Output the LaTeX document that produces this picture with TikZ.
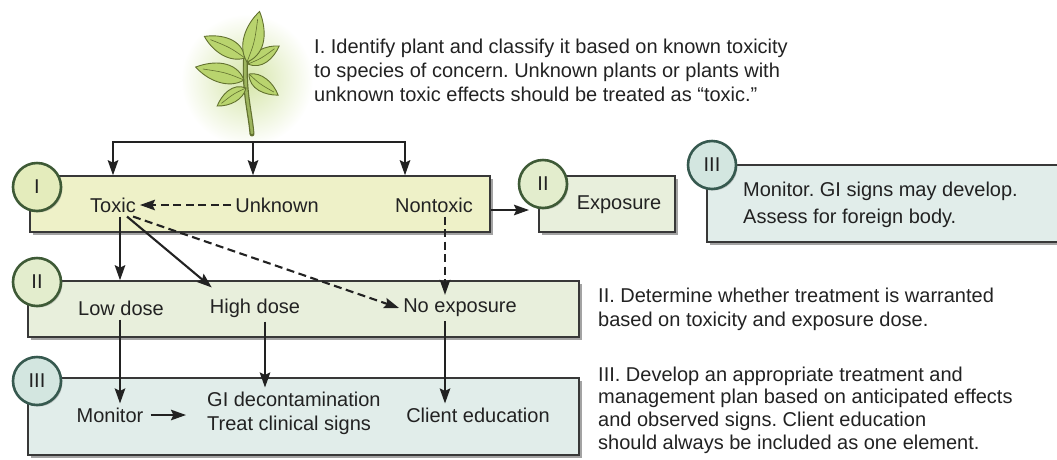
\documentclass[tikz,border=0pt]{standalone}
\usepackage{fontspec}
\setmainfont{Liberation Sans}
\usetikzlibrary{arrows.meta,shadows}
\frenchspacing

\definecolor{ink}{HTML}{222222}
\definecolor{paleyellow}{HTML}{EEF1C8}
\definecolor{palegreen}{HTML}{E8EFDC}
\definecolor{paleteal}{HTML}{E1EDEA}
\definecolor{ringgreen}{HTML}{3E5A36}
\definecolor{ringteal}{HTML}{36594F}
\definecolor{badgeyellow}{HTML}{E4ECBC}
\definecolor{badgegreen}{HTML}{E3EDCD}
\definecolor{badgeteal}{HTML}{D3E6E0}
\definecolor{leafgreen}{HTML}{B9D46E}
\definecolor{leafline}{HTML}{62712F}

% one leaf: base x, base y, angle, length
\newcommand{\leaf}[4]{%
  \begin{scope}[shift={(#1,#2)}, rotate=#3]
    \draw[leafline, fill=leafgreen, line width=0.9pt] (0,0) .. controls (#4*0.25,#4*0.34) and (#4*0.7,#4*0.22) .. (#4,0) .. controls (#4*0.7,-#4*0.2) and (#4*0.25,-#4*0.26) .. cycle;
    \draw[leafline, line width=0.6pt] (0,0) .. controls (#4*0.4,#4*0.05) .. (#4*0.85,0);
  \end{scope}}

\begin{document}
\begin{tikzpicture}[x=1pt, y=-1pt, font=\fontsize{20}{24}\selectfont, text=ink,
	panel/.style={draw=ink!90, line width=1.5pt, inner sep=0pt,
		drop shadow={shadow xshift=2.5pt, shadow yshift=-2.5pt, fill=black!60, opacity=.6}},
	badge/.style={circle, draw=#1, line width=2.6pt, minimum size=48pt, inner sep=0pt,
		drop shadow={shadow xshift=1.5pt, shadow yshift=-1.5pt, fill=black!50, opacity=.4}},
	lbl/.style={inner sep=4pt},
	note/.style={inner sep=0pt, anchor=west, align=left},
	arr/.style={draw=ink, line width=2.1pt, -{Stealth[length=15pt, width=10.5pt, inset=2.5pt]}},
	dashline/.style={dash pattern=on 8pt off 4.5pt}]
	\useasboundingbox (0,0) rectangle (1057,459);
	\clip (0,0) rectangle (1057,459);

	% plant
	\shade[inner color=leafgreen!60, outer color=white] (247,80) circle (66pt);
	\draw[leafline, line width=5pt, line cap=round] (252,134) .. controls (250,110) and (243,90) .. (246,52);
	\draw[leafgreen!85!black, line width=2.6pt, line cap=round] (252,133) .. controls (250,110) and (243,90) .. (246,52);
	\leaf{246}{88}{-148}{34}
	\leaf{249}{74}{-36}{36}
	\leaf{244}{80}{165}{50}
	\leaf{248}{64}{30}{36}
	\leaf{245}{58}{152}{46}
	\leaf{247}{62}{76}{52}
	\node[note] (stepI) at (314,70) {I. Identify plant and classify it based on known toxicity\\to species of concern. Unknown plants or plants with\\unknown toxic effects should be treated as “toxic.”};

	% panels
	\node[panel, fill=paleyellow, minimum width=460pt, minimum height=56pt] (rowI) at (260,204) {};
	\node[panel, fill=palegreen, minimum width=136pt, minimum height=56pt] (expbox) at (607,204) {};
	\node[panel, fill=paleteal, minimum width=380pt, minimum height=77pt] (gibox) at (897,203.5) {};
	\node[panel, fill=palegreen, minimum width=551pt, minimum height=56pt] (rowII) at (303.5,309) {};
	\node[panel, fill=paleteal, minimum width=551pt, minimum height=77pt] (rowIII) at (303.5,416.5) {};

	\node[badge=ringgreen, fill=badgeyellow] (bI) at (37,187) {I};
	\node[badge=ringgreen, fill=badgegreen] (bIIa) at (543,184) {II};
	\node[badge=ringteal, fill=badgeteal] (bIIIa) at (712,165) {III};
	\node[badge=ringgreen, fill=badgegreen] (bII) at (37,282) {II};
	\node[badge=ringteal, fill=badgeteal] (bIII) at (37,381) {III};

	% labels
	\node[lbl] (toxic) at (113,205) {Toxic};
	\node[lbl] (unknown) at (277,205) {Unknown};
	\node[lbl] (nontoxic) at (434,205) {Nontoxic};
	\node[lbl] (exposure) at (619,205) {Exposure};
	\node[note] (gisigns) at (743,205) {Monitor. GI signs may develop.\\[3pt]Assess for foreign body.};
	\node[lbl] (lowdose) at (121,308) {Low dose};
	\node[lbl] (highdose) at (255,308) {High dose};
	\node[lbl] (noexp) at (460,308) {No exposure};
	\node[lbl] (monitor) at (110,415) {Monitor};
	\node[lbl, anchor=west, align=left] (decon) at (203,413) {GI decontamination\\Treat clinical signs};
	\node[lbl] (client) at (478,415) {Client education};

	\node[note] (stepII) at (598,309) {II. Determine whether treatment is warranted\\based on toxicity and exposure dose.};
	\node[note, font=\fontsize{20}{22.7}\selectfont] (stepIII) at (598,410) {III. Develop an appropriate treatment and\\management plan based on anticipated effects\\and observed signs. Client education\\should always be included as one element.};

	% connectors
	\coordinate (fork) at (253,142);
	\coordinate (forkr) at (405,142);
	\coordinate (expin) at (529,210);
	\coordinate (colA) at (120,0);
	\coordinate (colB) at (265,0);
	\coordinate (colC) at (445,0);
	\draw[arr] (fork) -| (toxic.north |- rowI.north);
	\draw[arr] (fork) -- (fork |- rowI.north);
	\draw[arr] (fork) -| (forkr |- rowI.north);
	\draw[arr, dashline] (unknown) -- (toxic);
	\draw[arr] (rowI.east |- expin) -- (expin);
	\draw[arr] (toxic.south -| colA) -- (rowII.north -| colA);
	\draw[arr] ([xshift=14pt]toxic.south) -- ([shift={(6,-7)}]highdose.north west);
	\draw[arr, dashline] ([xshift=20pt]toxic.south) -- (noexp.west);
	\draw[arr, dashline] (nontoxic.south -| colC) -- (noexp.north -| colC);
	\draw[arr] (lowdose.south -| colA) -- (monitor.north -| colA);
	\draw[arr] (highdose.south -| colB) -- (decon.north -| colB);
	\draw[arr] (noexp.south -| colC) -- (client.north -| colC);
	\draw[arr, shorten <=3pt, shorten >=17pt] (monitor) -- (decon.west |- monitor);
\end{tikzpicture}
\end{document}
